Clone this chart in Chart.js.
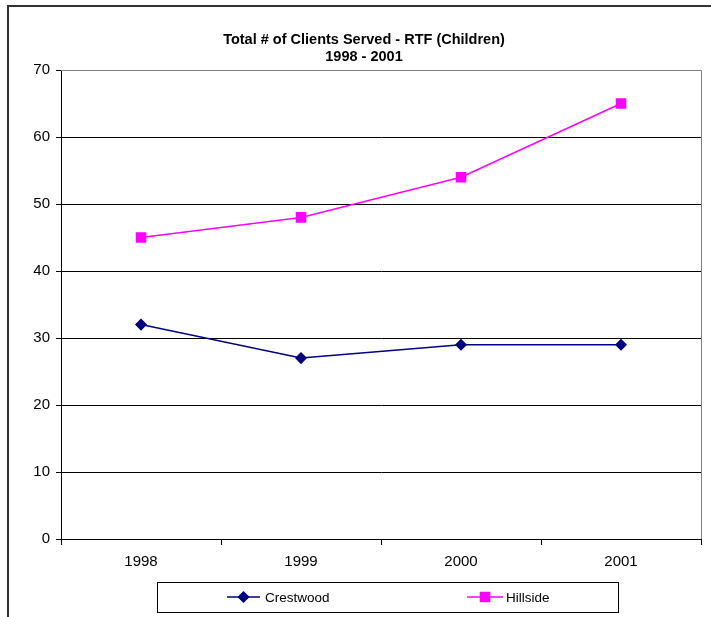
<!DOCTYPE html>
<html>
<head>
<meta charset="utf-8">
<script src="https://cdn.jsdelivr.net/npm/chart.js@4"></script>
<style>
  html, body { margin: 0; padding: 0; background: #fff; }
  #wrap { width: 711px; height: 617px; position: relative; }
</style>
</head>
<body>
<div id="wrap"><canvas id="chart" width="711" height="617"></canvas></div>
<script>
// data
const years = ['1998', '1999', '2000', '2001'];
const crestwood = [32, 27, 29, 29];
const hillside = [45, 48, 54, 65];
const titleLines = ['Total # of Clients Served - RTF (Children)', '1998 - 2001'];

const FONT = 'Arial, "Liberation Sans", sans-serif';

// frame, title, plot border and legend box
const decorPlugin = {
  id: 'decor',
  beforeDraw(chart) {
    const ctx = chart.ctx;
    ctx.save();
    ctx.fillStyle = '#fff';
    ctx.fillRect(0, 0, chart.width, chart.height);
    ctx.strokeStyle = '#333';
    ctx.lineWidth = 2;
    ctx.strokeRect(8, 6, 720, 640);
    ctx.restore();
  },
  afterDraw(chart) {
    const ctx = chart.ctx;
    const a = chart.chartArea;
    ctx.save();
    // gray plot border top/right
    ctx.strokeStyle = '#808080';
    ctx.lineWidth = 1;
    ctx.beginPath();
    ctx.moveTo(a.left, a.top + 0.5);
    ctx.lineTo(a.right + 0.5, a.top + 0.5);
    ctx.lineTo(a.right + 0.5, a.bottom);
    ctx.stroke();

    // title
    ctx.fillStyle = '#000';
    ctx.font = 'bold 14.5px ' + FONT;
    ctx.textAlign = 'center';
    ctx.textBaseline = 'middle';
    ctx.fillText(titleLines[0], 364, 40);
    ctx.fillText(titleLines[1], 364, 57);

    // legend
    ctx.strokeStyle = '#000';
    ctx.strokeRect(157.5, 582.5, 461, 30);
    ctx.font = '13.5px ' + FONT;
    ctx.textAlign = 'left';
    const items = [{ x1: 227, x2: 260, tx: 265 }, { x1: 467, x2: 503, tx: 506 }];
    chart.data.datasets.forEach((ds, i) => {
      const it = items[i];
      const y = 597;
      ctx.strokeStyle = ds.borderColor;
      ctx.lineWidth = ds.borderWidth;
      ctx.beginPath();
      ctx.moveTo(it.x1, y);
      ctx.lineTo(it.x2, y);
      ctx.stroke();
      Chart.helpers.drawPoint(ctx, {
        pointStyle: ds.pointStyle, radius: ds.pointRadius, rotation: 0, borderWidth: 1
      }, (it.x1 + it.x2) / 2, y);
      ctx.fillStyle = ds.borderColor;
      ctx.strokeStyle = ds.borderColor;
      ctx.fill();
      ctx.fillStyle = '#000';
      ctx.fillText(ds.label, it.tx, y + 1);
    });
    ctx.restore();
  }
};

new Chart(document.getElementById('chart'), {
  type: 'line',
  data: {
    labels: years,
    datasets: [
      {
        label: 'Crestwood',
        data: crestwood,
        borderColor: '#000080',
        backgroundColor: '#000080',
        borderWidth: 1.5,
        pointStyle: 'rectRot',
        pointRadius: 5,
        pointBackgroundColor: '#000080',
        pointBorderColor: '#000080',
        tension: 0
      },
      {
        label: 'Hillside',
        data: hillside,
        borderColor: '#FF00FF',
        backgroundColor: '#FF00FF',
        borderWidth: 1.5,
        pointStyle: 'rect',
        pointRadius: 6.4,
        pointBackgroundColor: '#FF00FF',
        pointBorderColor: '#FF00FF',
        tension: 0
      }
    ]
  },
  options: {
    responsive: false,
    animation: false,
    events: [],
    layout: { padding: { top: 70, right: 10, bottom: 48, left: 0 } },
    plugins: {
      legend: { display: false },
      title: { display: false },
      tooltip: { enabled: false }
    },
    scales: {
      x: {
        offset: true,
        afterFit(scale) { scale.height = 30; },
        grid: {
          offset: true,
          drawOnChartArea: false,
          drawTicks: true,
          tickLength: 6,
          color: '#000'
        },
        border: { color: '#000', width: 1 },
        ticks: { color: '#000', font: { family: FONT, size: 15 }, padding: 8 }
      },
      y: {
        min: 0,
        max: 70,
        afterFit(scale) { scale.width = 61; },
        grid: {
          color: ctx => (ctx.tick && ctx.tick.value === 70 ? '#808080' : '#000'),
          tickColor: '#000',
          tickLength: 5
        },
        border: { color: '#000', width: 1 },
        ticks: { stepSize: 10, color: '#000', font: { family: FONT, size: 15 }, padding: 6 }
      }
    }
  },
  plugins: [decorPlugin]
});
</script>
</body>
</html>
